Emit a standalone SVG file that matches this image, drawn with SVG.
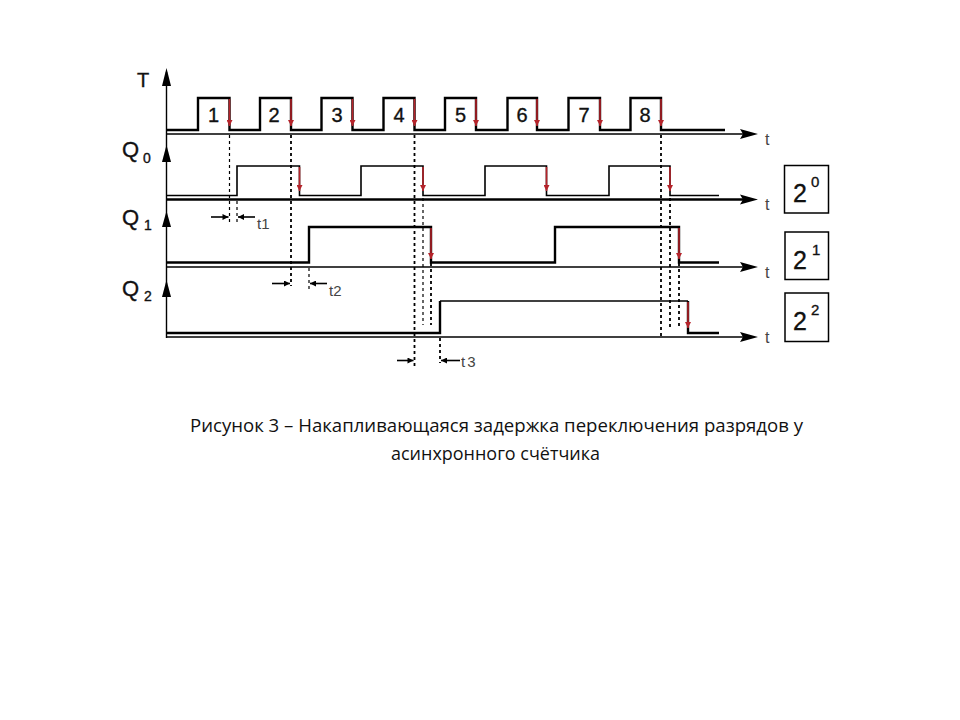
<svg xmlns="http://www.w3.org/2000/svg" width="960" height="720" viewBox="0 0 960 720">
<defs>
<style>
.wf{fill:none;stroke:#000;stroke-width:2.4;stroke-linejoin:miter}
.wft{fill:none;stroke:#000;stroke-width:1.6}
.ax{fill:none;stroke:#000;stroke-width:1.4}
.axb{fill:none;stroke:#000;stroke-width:2.4}
.red{fill:none;stroke:#b5232a;stroke-width:1.6;marker-end:url(#rh)}
.dot{fill:none;stroke:#000;stroke-width:1.8;stroke-dasharray:3 3}
.dotl{fill:none;stroke:#000;stroke-width:1.2;stroke-dasharray:3 3}
.dl{fill:none;stroke:#000;stroke-width:1.6;marker-end:url(#dh)}
.lbl{font-family:"Liberation Sans",Arial,sans-serif;fill:#111;stroke:#111;stroke-width:0.35}
.tl{font-family:"Liberation Sans",Arial,sans-serif;fill:#444;font-size:16px}
.dt{font-family:"Liberation Sans",Arial,sans-serif;fill:#444;font-size:15px}
.box{fill:#fff;stroke:#000;stroke-width:1.5}
.cap{font-family:"Open Sans","Noto Sans",sans-serif;font-size:18.5px;fill:#111}
</style>
<marker id="rh" viewBox="0 0 10 10" refX="10" refY="5" markerWidth="7" markerHeight="6" markerUnits="userSpaceOnUse" orient="auto">
<path d="M0,0 L10,5 L0,10 z" fill="#b5232a"/>
</marker>
<marker id="dh" viewBox="0 0 10 10" refX="10" refY="5" markerWidth="7" markerHeight="6" markerUnits="userSpaceOnUse" orient="auto">
<path d="M0,0 L10,5 L0,10 z" fill="#000"/>
</marker>
</defs>
<rect width="960" height="720" fill="#fff"/>

<g id="axes">
<line class="ax" x1="166.5" y1="72" x2="166.5" y2="338"/>
<polygon points="166.5,68 171,86 162,86" fill="#000"/>
<polygon points="166.5,145 171,162 162,162" fill="#000"/>
<polygon points="166.5,211 171,227 162,227" fill="#000"/>
<polygon points="166.5,280 171,297 162,297" fill="#000"/>
<line class="ax" x1="166.5" y1="134" x2="745" y2="134"/>
<polygon points="740,129 758,134 740,139 743,134" fill="#000"/>
<line class="axb" x1="166.5" y1="199.5" x2="745" y2="199.5"/>
<polygon points="740,194.5 758,199.5 740,204.5 743,199.5" fill="#000"/>
<line class="ax" x1="166.5" y1="267" x2="745" y2="267"/>
<polygon points="740,262 758,267 740,272 743,267" fill="#000"/>
<line class="ax" x1="166.5" y1="337" x2="745" y2="337"/>
<polygon points="740,332 758,337 740,342 743,337" fill="#000"/>
<text class="tl" x="765" y="145">t</text>
<text class="tl" x="765" y="210">t</text>
<text class="tl" x="765" y="278">t</text>
<text class="tl" x="765" y="343">t</text>
</g>

<g id="labels">
<text class="lbl" x="137" y="87" font-size="20">T</text>
<text class="lbl" x="122" y="157" font-size="22">Q</text>
<text class="lbl" x="143" y="163" font-size="14">0</text>
<text class="lbl" x="122" y="225" font-size="22">Q</text>
<text class="lbl" x="144" y="230" font-size="14">1</text>
<text class="lbl" x="122" y="296" font-size="22">Q</text>
<text class="lbl" x="144" y="301" font-size="14">2</text>
</g>

<g id="signal-T">
<path class="wf" d="M166.5,130 H198 V98 H229.5 V130 H260 V98 H291 V130 H321.5 V98 H352.5 V130 H383.5 V98 H414.5 V130 H445 V98 H476 V130 H507.5 V98 H537 V130 H568.5 V98 H600 V130 H630.5 V98 H661 V130 H725"/>
<g class="lbl" font-size="20" text-anchor="middle">
<text x="213.5" y="122">1</text>
<text x="274" y="122">2</text>
<text x="337" y="122">3</text>
<text x="399" y="122">4</text>
<text x="460.5" y="122">5</text>
<text x="522" y="122">6</text>
<text x="584" y="122">7</text>
<text x="645" y="122">8</text>
</g>
<path class="red" d="M229.5,99 V126"/>
<path class="red" d="M291,99 V126"/>
<path class="red" d="M352.5,99 V126"/>
<path class="red" d="M414.5,99 V126"/>
<path class="red" d="M476,99 V126"/>
<path class="red" d="M537,99 V126"/>
<path class="red" d="M600,99 V126"/>
<path class="red" d="M661,99 V126"/>
</g>

<g id="signal-Q0">
<path class="wft" d="M166.5,195.5 H237 V166 H299.5 V195.5 H361 V166 H423 V195.5 H485 V166 H546.5 V195.5 H609 V166 H670 V195.5 H719"/>
<path class="red" d="M299.5,167 V191"/>
<path class="red" d="M423,167 V191"/>
<path class="red" d="M546.5,167 V191"/>
<path class="red" d="M670,167 V191"/>
</g>

<g id="signal-Q1">
<path class="wf" d="M166.5,262.5 H309 V227 H431 V262.5 H555 V227 H679 V262.5 H719"/>
<path class="red" d="M431,228 V259"/>
<path class="red" d="M679,228 V259"/>
</g>

<g id="signal-Q2">
<path class="wf" d="M166.5,333 H440 V301"/>
<path class="wft" d="M440,301 H688"/>
<path class="wf" d="M688,301 V333 H719"/>
<path class="red" d="M688,302 V328"/>
</g>

<g id="connectors">
<line class="dotl" x1="229.5" y1="135" x2="229.5" y2="225"/>
<line class="dotl" x1="237" y1="201" x2="237" y2="225"/>
<line class="dot" x1="291" y1="135" x2="291" y2="286"/>
<line class="dotl" x1="309" y1="268" x2="309" y2="289"/>
<line class="dot" x1="414.5" y1="135" x2="414.5" y2="368"/>
<line class="dotl" x1="423" y1="198" x2="423" y2="325"/>
<line class="dot" x1="431" y1="263" x2="431" y2="325"/>
<line class="dot" x1="440" y1="338" x2="440" y2="363"/>
<line class="dot" x1="661" y1="135" x2="661" y2="337"/>
<line class="dot" x1="670" y1="198" x2="670" y2="329"/>
<line class="dot" x1="679" y1="263" x2="679" y2="329"/>
<line class="dl" x1="211" y1="217" x2="228.5" y2="217"/>
<line class="dl" x1="255" y1="217" x2="238" y2="217"/>
<line class="dl" x1="272" y1="283.5" x2="290" y2="283.5"/>
<line class="dl" x1="327" y1="283.5" x2="310" y2="283.5"/>
<line class="dl" x1="397" y1="360.5" x2="413.5" y2="360.5"/>
<line class="dl" x1="460" y1="360.5" x2="441" y2="360.5"/>
<text class="dt" x="257" y="229">t1</text>
<text class="dt" x="329" y="296">t2</text>
<text class="dt" x="461" y="367" letter-spacing="2">t3</text>
</g>

<g id="box-2-0">
<rect class="box" x="784.5" y="165.5" width="44" height="47.5"/>
<text class="lbl" x="793" y="202" font-size="25">2</text>
<text class="lbl" x="811" y="187" font-size="15">0</text>
</g>
<g id="box-2-1">
<rect class="box" x="785" y="232" width="43.5" height="47.5"/>
<text class="lbl" x="793" y="268.5" font-size="25">2</text>
<text class="lbl" x="812" y="255" font-size="15">1</text>
</g>
<g id="box-2-2">
<rect class="box" x="785" y="293" width="43.5" height="48.5"/>
<text class="lbl" x="793" y="330" font-size="25">2</text>
<text class="lbl" x="811" y="315" font-size="15">2</text>
</g>

<g id="caption">
<text class="cap" x="190" y="432" textLength="613" lengthAdjust="spacingAndGlyphs">Рисунок 3 – Накапливающаяся задержка переключения разрядов  у</text>
<text class="cap" x="391" y="459.5" textLength="209" lengthAdjust="spacingAndGlyphs">асинхронного счётчика</text>
</g>
</svg>
